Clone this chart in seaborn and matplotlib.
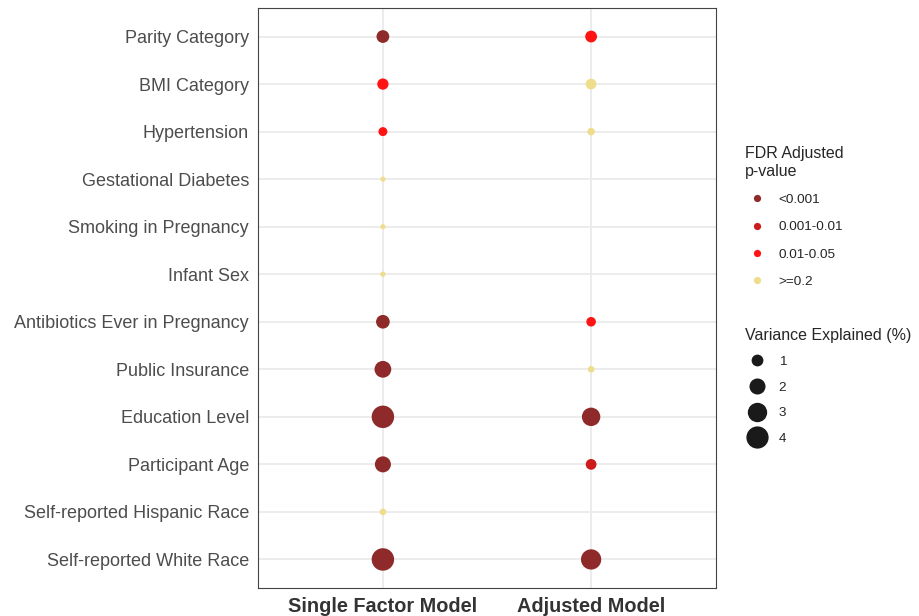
import numpy as np
import pandas as pd
import seaborn as sns
import matplotlib.pyplot as plt
from matplotlib.lines import Line2D

predictors = ["Parity Category", "BMI Category", "Hypertension", "Gestational Diabetes",
              "Smoking in Pregnancy", "Infant Sex", "Antibiotics Ever in Pregnancy",
              "Public Insurance", "Education Level", "Participant Age",
              "Self-reported Hispanic Race", "Self-reported White Race"]
models = ["Single Factor Model", "Adjusted Model"]

single_var = [1.2, 0.9, 0.5, 0.05, 0.05, 0.05, 1.4, 2.2, 4.1, 2.0, 0.2, 4.1]
single_p = ["<0.001", "0.01-0.05", "0.01-0.05", ">=0.2", ">=0.2", ">=0.2",
            "<0.001", "<0.001", "<0.001", "<0.001", ">=0.2", "<0.001"]
adjusted_var = [1.0, 0.8, 0.3, np.nan, np.nan, np.nan, 0.6, 0.2, 2.7, 0.8, np.nan, 3.3]
adjusted_p = ["0.01-0.05", ">=0.2", ">=0.2", None, None, None,
              "0.01-0.05", ">=0.2", "<0.001", "0.001-0.01", None, "<0.001"]

p_levels = ["<0.001", "0.001-0.01", "0.01-0.05", ">=0.2"]
p_colors = ["#8E2A2A", "#CD1A1A", "#FF1414", "#EEDD8C"]
size_breaks = [1, 2, 3, 4]

df = pd.concat([
    pd.DataFrame({"predictor": predictors, "model": models[0], "var": single_var, "p": single_p}),
    pd.DataFrame({"predictor": predictors, "model": models[1], "var": adjusted_var, "p": adjusted_p}),
]).dropna()

sns.set_style("white")
plt.rcParams["font.family"] = ["Liberation Sans", "DejaVu Sans"]

fig = plt.figure(figsize=(9.2, 6.16), dpi=100)
ax = fig.add_axes([0.2804, 0.0455, 0.4979, 0.9415])

size_norm = (0.05, 4.1)
size_range = (14, 262)
palette = dict(zip(p_levels, p_colors))

sns.scatterplot(data=df, x="model", y="predictor", hue="p", hue_order=p_levels,
                palette=palette, size="var", sizes=size_range, size_norm=size_norm,
                linewidth=0, legend=False, ax=ax, zorder=3)

ax.set_xlim(-0.6, 1.6)
ax.set_ylim(11.6, -0.6)
ax.set_xticks(range(len(models)))
ax.set_xticklabels(models, fontsize=14.3, fontweight="bold", color="#333333")
ax.set_yticks(range(len(predictors)))
ax.set_yticklabels(predictors, fontsize=13.0, color="#4D4D4D")
ax.set_xlabel("")
ax.set_ylabel("")
ax.grid(True, color="#EBEBEB", linewidth=1.3, zorder=0)
ax.set_axisbelow(True)
ax.tick_params(axis="both", length=3.5, width=0.8, color="#333333", pad=3)
for s in ax.spines.values():
    s.set_color("#444444")
    s.set_linewidth(0.8)


def area(v):
    return size_range[0] + (v - size_norm[0]) / (size_norm[1] - size_norm[0]) * (size_range[1] - size_range[0])


h1 = [Line2D([], [], marker="o", linestyle="", markersize=5.2, markerfacecolor=c,
             markeredgewidth=0) for c in p_colors]
leg1 = fig.legend(h1, p_levels, title="FDR Adjusted\np-value", loc="upper left",
                  bbox_to_anchor=(0.804, 0.771), frameon=False, fontsize=9.7,
                  title_fontsize=11.5, labelspacing=1.1, handletextpad=0.8,
                  handlelength=1.7, borderaxespad=0)
leg1._legend_box.align = "left"

h2 = [Line2D([], [], marker="o", linestyle="", markersize=np.sqrt(area(v)),
             markerfacecolor="#1A1A1A", markeredgewidth=0) for v in size_breaks]
leg2 = fig.legend(h2, [str(v) for v in size_breaks], title="Variance Explained (%)",
                  loc="upper left", bbox_to_anchor=(0.804, 0.477), frameon=False,
                  fontsize=9.7, title_fontsize=11.5, labelspacing=0.98,
                  handletextpad=0.8, handlelength=1.7, borderaxespad=0)
leg2._legend_box.align = "left"

fig.savefig("out.png", dpi=100)
